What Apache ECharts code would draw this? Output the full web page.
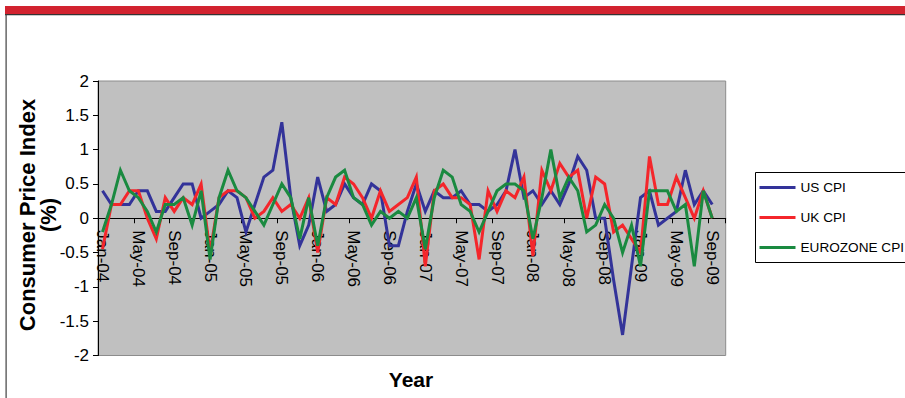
<!DOCTYPE html>
<html>
<head>
<meta charset="utf-8">
<title>Consumer Price Index</title>
<script src="https://cdn.jsdelivr.net/npm/echarts@6.0.0/dist/echarts.min.js"></script>
<style>
  html, body { margin: 0; padding: 0; background: #ffffff; }
  #chart { width: 905px; height: 398px; }
</style>
</head>
<body>
<div id="chart"></div>
<script>
// Month-on-month CPI change (%), Jan-04 .. Sep-09
const monthNames = ['Jan', 'Feb', 'Mar', 'Apr', 'May', 'Jun', 'Jul', 'Aug', 'Sep', 'Oct', 'Nov', 'Dec'];
const yearSuffixes = ['04', '05', '06', '07', '08', '09'];
const lastMonthIndex = 9; // axis runs through Oct-09

const usCpi = [
  0.4, 0.2, 0.2, 0.2, 0.4, 0.4, 0.1, 0.1, 0.3, 0.5, 0.5, 0.0,
  0.1, 0.2, 0.4, 0.3, -0.2, 0.2, 0.6, 0.7, 1.4, 0.3, -0.4, -0.1,
  0.6, 0.1, 0.2, 0.5, 0.3, 0.2, 0.5, 0.4, -0.4, -0.4, 0.1, 0.5,
  0.1, 0.4, 0.3, 0.3, 0.4, 0.2, 0.2, 0.1, 0.2, 0.4, 1.0, 0.3,
  0.4, 0.2, 0.4, 0.2, 0.5, 0.9, 0.7, 0.0, 0.0, -0.9, -1.7, -0.7,
  0.3, 0.4, -0.1, 0.0, 0.1, 0.7, 0.2, 0.4, 0.2
];
const ukCpi = [
  -0.45, 0.2, 0.2, 0.4, 0.4, 0.0, -0.3, 0.3, 0.1, 0.3, 0.2, 0.5,
  -0.5, 0.3, 0.4, 0.4, 0.3, 0.0, 0.1, 0.3, 0.1, 0.2, 0.0, 0.3,
  -0.5, 0.3, 0.2, 0.6, 0.5, 0.3, 0.0, 0.4, 0.1, 0.2, 0.3, 0.6,
  -0.7, 0.4, 0.5, 0.3, 0.3, 0.2, -0.6, 0.4, 0.1, 0.4, 0.3, 0.6,
  -0.55, 0.7, 0.4, 0.8, 0.6, 0.7, 0.0, 0.6, 0.5, -0.2, -0.1, -0.3,
  -0.5, 0.9, 0.2, 0.2, 0.6, 0.3, 0.0, 0.4, 0.0
];
const eurozoneCpi = [
  -0.2, 0.2, 0.7, 0.4, 0.3, 0.1, -0.2, 0.2, 0.2, 0.3, -0.1, 0.4,
  -0.6, 0.3, 0.7, 0.4, 0.3, 0.1, -0.1, 0.2, 0.5, 0.3, -0.3, 0.3,
  -0.4, 0.3, 0.6, 0.7, 0.3, 0.2, -0.1, 0.1, 0.0, 0.1, 0.0, 0.3,
  -0.45, 0.3, 0.7, 0.6, 0.2, 0.1, -0.2, 0.1, 0.4, 0.5, 0.5, 0.4,
  -0.3, 0.3, 1.0, 0.3, 0.6, 0.4, -0.2, -0.1, 0.2, 0.0, -0.5, -0.1,
  -0.7, 0.4, 0.4, 0.4, 0.1, 0.2, -0.7, 0.4, 0.0
];

const seriesNames = ['US CPI', 'UK CPI', 'EUROZONE CPI'];
const seriesColors = ['#333399', '#F4262B', '#1A8A40'];
const yTicks = { min: -2, max: 2, step: 0.5 };

// month labels such as "Jan-04"
const categories = [];
yearSuffixes.forEach(function (yy, yi) {
  monthNames.forEach(function (m, mi) {
    if (yi < yearSuffixes.length - 1 || mi <= lastMonthIndex) {
      categories.push(m + '-' + yy);
    }
  });
});

const font = 'Arial, "Liberation Sans", sans-serif';
const plot = { left: 98, right: 179.3, top: 81, bottom: 42.5, height: 398 - 81 - 42.5 };
const chart = echarts.init(document.getElementById('chart'), null, { renderer: 'svg' });

chart.setOption({
  backgroundColor: '#ffffff',
  animation: false,
  grid: {
    left: plot.left, right: plot.right, top: plot.top, bottom: plot.bottom,
    outerBoundsMode: 'none',
    containLabel: false,
    show: true,
    backgroundColor: '#C0C0C0',
    borderColor: '#8C8C8C',
    borderWidth: 1
  },
  legend: {
    orient: 'vertical',
    left: 755.5,
    top: 172.5,
    padding: [7, 40, 7, 4],
    itemGap: 14,
    itemWidth: 36,
    itemHeight: 3,
    icon: 'rect',
    backgroundColor: '#ffffff',
    borderColor: '#000000',
    borderWidth: 1,
    borderRadius: 0,
    textStyle: { fontFamily: font, fontSize: 13.6, color: '#000000', lineHeight: 16 },
    data: seriesNames
  },
  xAxis: {
    type: 'category',
    data: categories,
    boundaryGap: true,
    // the category axis sits on the zero line, halfway down the symmetric value range
    offset: -plot.height / 2,
    axisLine: { onZero: false, lineStyle: { color: '#000000', width: 1 } },
    axisTick: { show: true, interval: 3, length: 5, lineStyle: { color: '#000000' } },
    axisLabel: {
      interval: 3,
      rotate: -90,
      margin: 12,
      fontFamily: font,
      fontSize: 17,
      color: '#000000',
      hideOverlap: false
    },
    splitLine: { show: false }
  },
  yAxis: {
    type: 'value',
    min: yTicks.min,
    max: yTicks.max,
    interval: yTicks.step,
    axisLine: { show: true, lineStyle: { color: '#000000', width: 1 } },
    axisTick: { show: true, length: 5, lineStyle: { color: '#000000' } },
    axisLabel: { fontFamily: font, fontSize: 17, color: '#000000', margin: 9 },
    splitLine: { show: false }
  },
  series: [usCpi, ukCpi, eurozoneCpi].map(function (values, i) {
    return {
      name: seriesNames[i],
      type: 'line',
      data: values,
      showSymbol: false,
      symbol: 'none',
      color: seriesColors[i],
      lineStyle: { width: 3, color: seriesColors[i], join: 'miter' }
    };
  }),
  graphic: [
    // red banner strip and the frame lines under it
    { type: 'rect', shape: { x: 5, y: 6, width: 900, height: 8 }, style: { fill: '#D2232F' }, silent: true },
    { type: 'rect', shape: { x: 5, y: 14, width: 900, height: 1.3 }, style: { fill: '#333333' }, silent: true },
    { type: 'rect', shape: { x: 5.5, y: 14, width: 1.2, height: 384 }, style: { fill: '#404040' }, silent: true },
    {
      type: 'text',
      x: 38, y: 215,
      rotation: Math.PI / 2,
      style: {
        text: 'Consumer Price Index\n(%)',
        font: 'bold 22px ' + font,
        fill: '#000000',
        align: 'center',
        verticalAlign: 'middle',
        lineHeight: 21
      },
      silent: true
    },
    {
      type: 'text',
      x: 411, y: 379,
      style: {
        text: 'Year',
        font: 'bold 21px ' + font,
        fill: '#000000',
        align: 'center',
        verticalAlign: 'middle'
      },
      silent: true
    }
  ]
});
</script>
</body>
</html>
